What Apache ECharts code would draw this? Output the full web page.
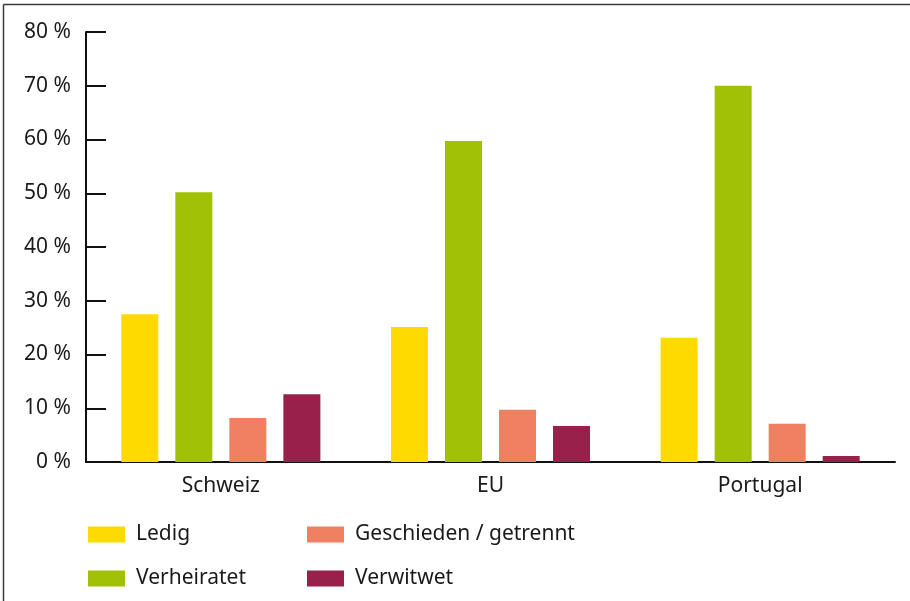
<!DOCTYPE html>
<html>
<head>
<meta charset="utf-8">
<script src="https://cdn.jsdelivr.net/npm/echarts@6/dist/echarts.min.js"></script>
<style>
  html, body { margin: 0; padding: 0; background: #fff; }
  #main { width: 910px; height: 601px; }
</style>
</head>
<body>
<div id="main"></div>
<script>
// Daten
var laender = ['Schweiz', 'EU', 'Portugal'];
var ledig = [27.5, 25.1, 23.1];
var verheiratet = [50.2, 59.7, 70.0];
var geschieden = [8.2, 9.7, 7.1];
var verwitwet = [12.6, 6.7, 1.1];
var yTicks = [0, 10, 20, 30, 40, 50, 60, 70, 80];

var schrift = '"Noto Sans", "Open Sans", sans-serif';
var farben = ['#FFDA00', '#A0C105', '#EF8061', '#98204B'];

var myChart = echarts.init(document.getElementById('main'));

function balken(name, werte, farbe) {
    return {
        name: name,
        type: 'bar',
        data: werte,
        barWidth: 37,
        barGap: '46%',
        itemStyle: { color: farbe },
        emphasis: { disabled: true }
    };
}

var legendText = { fontFamily: schrift, fontSize: 21, color: '#1a1a1a', padding: [0, 0, 0, 6] };

option = {
    animation: false,
    textStyle: { fontFamily: schrift },
    graphic: [
        { type: 'line', shape: { x1: 3.5, y1: 4.5, x2: 910, y2: 4.5 }, style: { stroke: '#3a3a3a', lineWidth: 1.5 } },
        { type: 'line', shape: { x1: 3.5, y1: 4.5, x2: 3.5, y2: 601 }, style: { stroke: '#3a3a3a', lineWidth: 1.5 } }
    ],
    legend: [
        {
            data: ['Ledig', 'Verheiratet'],
            orient: 'vertical',
            left: 83,
            top: 519,
            itemWidth: 37,
            itemHeight: 16,
            itemGap: 23,
            icon: 'rect',
            selectedMode: false,
            textStyle: legendText
        },
        {
            data: ['Geschieden / getrennt', 'Verwitwet'],
            orient: 'vertical',
            left: 302,
            top: 519,
            itemWidth: 37,
            itemHeight: 16,
            itemGap: 23,
            icon: 'rect',
            selectedMode: false,
            textStyle: legendText
        }
    ],
    grid: {
        left: 86,
        right: 15,
        top: 32,
        bottom: 139,
        containLabel: false
    },
    xAxis: {
        type: 'category',
        data: laender,
        axisLine: { lineStyle: { color: '#111', width: 2 } },
        axisTick: { inside: true, length: 9, lineStyle: { color: '#111', width: 2 } },
        axisLabel: { color: '#1a1a1a', fontSize: 21, fontFamily: schrift, margin: 14 }
    },
    yAxis: {
        type: 'value',
        min: yTicks[0],
        max: yTicks[yTicks.length - 1],
        interval: 10,
        axisLine: { show: true, lineStyle: { color: '#111', width: 2 } },
        axisTick: { show: true, inside: true, length: 20, lineStyle: { color: '#111', width: 2 } },
        axisLabel: {
            color: '#1a1a1a',
            fontSize: 21,
            fontFamily: schrift,
            margin: 15,
            formatter: '{value} %'
        },
        splitLine: { show: false }
    },
    series: [
        balken('Ledig', ledig, farben[0]),
        balken('Verheiratet', verheiratet, farben[1]),
        balken('Geschieden / getrennt', geschieden, farben[2]),
        balken('Verwitwet', verwitwet, farben[3])
    ]
};

myChart.setOption(option);
</script>
</body>
</html>
